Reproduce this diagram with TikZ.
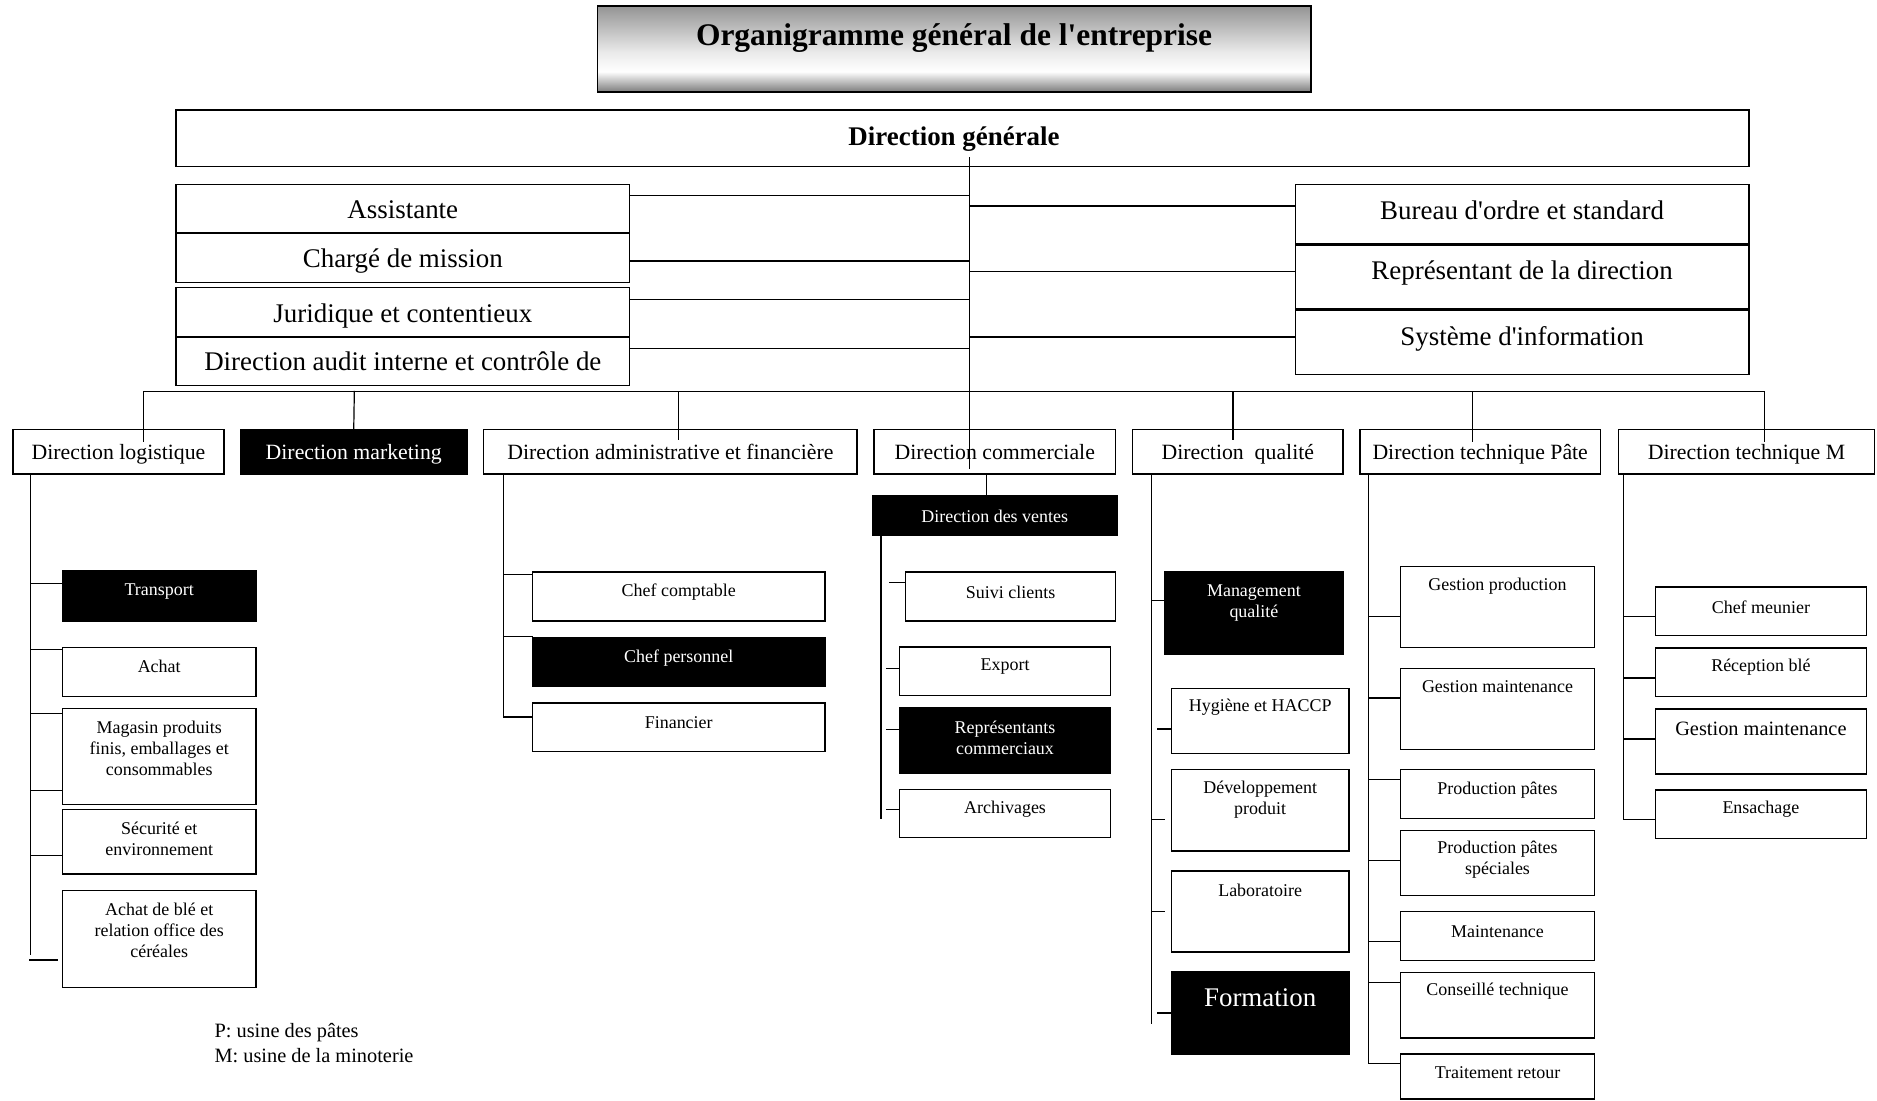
\documentclass[tikz,border=0pt]{standalone}
\usepackage{fontspec}
\setmainfont{Liberation Serif}[Ligatures=TeXOff]
\usetikzlibrary{calc}
\pgfdeclareverticalshading{titleshade}{100bp}{color(0bp)=(black!52); color(25bp)=(black!52); color(37bp)=(white); color(48bp)=(white!92!black); color(75bp)=(black!42); color(100bp)=(black!42)}
\newcommand{\bx}[9]{%
  \node[#6, minimum width={#4-#2}, minimum height={#5-#3}] (#1) at ({(#2+#4)/2},{(#3+#5)/2}) {};
  \node[#7] (#1-t) at ({(#2+#4)/2},#8) {#9};}
\begin{document}
\begin{tikzpicture}[x=1pt,y=-1pt,
  box/.style={draw=black, line width=1.2pt, rectangle, inner sep=0pt, outer sep=0pt},
  wb/.style={box, fill=white},
  bb/.style={box, fill=black},
  conn/.style={line width=1pt, line cap=rect},
  t15/.style={font=\fontsize{15}{17.5}\selectfont, align=center, inner sep=0pt},
  t15w/.style={t15, text=white},
  t17/.style={font=\fontsize{17}{19}\selectfont, align=center, inner sep=0pt},
  t18/.style={font=\fontsize{18.2}{21}\selectfont, inner sep=0pt, text height=12.4pt, text depth=0pt},
  t18w/.style={t18, text=white},
  t22/.style={font=\fontsize{22.5}{26}\selectfont, inner sep=0pt, text height=15.2pt, text depth=0pt},
  t22w/.style={t22, text=white},
  tb22/.style={font=\fontsize{22.5}{26}\selectfont\bfseries, inner sep=0pt, text height=15.2pt, text depth=0pt},
  tb26/.style={font=\fontsize{26.3}{30}\selectfont\bfseries, inner sep=0pt, text height=17.8pt, text depth=0pt}]
\useasboundingbox (0,0) rectangle (1568,919);

% title
\node[draw=black, line width=1.2pt, shading=titleshade, minimum width=596, minimum height=72, inner sep=0pt] (title) at (797,41) {};
\node[tb26] (title-t) at (797,29) {Organigramme général de l'entreprise};

% direction generale
\node[wb, minimum width=1314, minimum height=47] (dg) at (804,115.5) {};
\node[tb22] (dg-t) at (797,114) {Direction générale};

% staff left
\bx{assist}{147}{154}{526}{194}{wb}{t22}{175}{Assistante}
\bx{charge}{147}{195}{526}{236}{wb}{t22}{216}{Chargé de mission}
\bx{jurid}{147}{240}{526}{281}{wb}{t22}{262}{Juridique et contentieux}
\bx{audit}{147}{282}{526}{322}{wb}{t22}{302}{Direction audit interne et contrôle de}
% staff right
\bx{bureau}{1082}{154}{1461}{204}{wb}{t22}{176}{Bureau d'ordre et standard}
\bx{repres}{1082}{205}{1461}{258}{wb}{t22}{226}{Représentant de la direction}
\bx{sysinfo}{1082}{259}{1461}{313}{wb}{t22}{281}{Système d'information}

% directions
\bx{dlog}{11}{359}{187}{396}{wb}{t18}{378}{Direction logistique}
\bx{dmkt}{201}{359}{390}{396}{bb}{t18w}{378}{Direction marketing}
\bx{dadm}{404}{359}{716}{396}{wb}{t18}{378}{Direction administrative et financière}
\bx{dcom}{730}{359}{932}{396}{wb}{t18}{378}{Direction commerciale}
\bx{dqual}{946}{359}{1122}{396}{wb}{t18}{378}{Direction~~qualité}
\bx{dtp}{1136}{359}{1337}{396}{wb}{t18}{378}{Direction technique Pâte}
\bx{dtm}{1352}{359}{1566}{396}{wb}{t18}{378}{Direction technique M}

% logistique children
\bx{transp}{52}{477}{214}{519}{bb}{t15w}{494}{Transport}
\bx{achat}{52}{541}{214}{582}{wb}{t15}{557}{Achat}
\bx{magasin}{52}{592}{214}{672}{wb}{t15}{625}{Magasin produits\\finis, emballages et\\consommables}
\bx{secur}{52}{676}{214}{730}{wb}{t15}{701}{Sécurité et\\environnement}
\bx{achble}{52}{744}{214}{825}{wb}{t15}{777.5}{Achat de blé et\\relation office des\\céréales}

% admin children
\bx{compt}{445}{478}{689}{518.6}{wb}{t15}{495}{Chef comptable}
\bx{perso}{445}{532.4}{689}{573.6}{bb}{t15w}{550}{Chef personnel}
\bx{financ}{445}{587.2}{689}{628}{wb}{t15}{604}{Financier}

% commerciale children
\bx{ventes}{729}{414}{933}{447}{bb}{t15w}{431}{Direction des ventes}
\bx{suivi}{756.5}{478}{932}{518.6}{wb}{t15}{495}{Suivi clients}
\bx{export}{751.6}{540.5}{927.6}{581}{wb}{t15}{557}{Export}
\bx{reprcom}{751.6}{591.6}{927.6}{645.8}{bb}{t15w}{616}{Représentants\\commerciaux}
\bx{archiv}{751.6}{659.5}{927.6}{699.8}{wb}{t15}{676}{Archivages}

% qualite children
\bx{mgmt}{973}{478}{1122}{546.5}{bb}{t15w}{503.5}{Management\\qualité}
\bx{hyg}{978.6}{575}{1126.8}{629.4}{wb}{t15}{591}{Hygiène et HACCP}
\bx{devp}{978.6}{642.7}{1126.8}{710.8}{wb}{t15}{668}{Développement\\produit}
\bx{labo}{978.6}{727.5}{1126.8}{795.3}{wb}{t15}{744}{Laboratoire}
\bx{form}{978.6}{812}{1126.8}{881}{bb}{t22w}{833}{Formation}

% technique pate children
\bx{gprod}{1170}{473.3}{1332}{541}{wb}{t15}{490}{Gestion production}
\bx{gmaint}{1170}{558.4}{1332}{626}{wb}{t15}{574}{Gestion maintenance}
\bx{prodp}{1170}{642.7}{1332}{683.7}{wb}{t15}{660}{Production pâtes}
\bx{prodps}{1170}{693.7}{1332}{748}{wb}{t15}{718.5}{Production pâtes\\spéciales}
\bx{maint}{1170}{761.5}{1332}{802.3}{wb}{t15}{778}{Maintenance}
\bx{conseil}{1170}{812.3}{1332}{867}{wb}{t15}{828}{Conseillé technique}
\bx{traitr}{1170}{880.4}{1332}{918.2}{wb}{t15}{896}{Traitement retour}

% technique M children
\bx{meun}{1383}{490.3}{1559}{530.8}{wb}{t15}{507}{Chef meunier}
\bx{recep}{1383}{541.4}{1559}{582}{wb}{t15}{557}{Réception blé}
\bx{gmaintm}{1383}{592.2}{1559}{646.5}{wb}{t17}{609}{Gestion maintenance}
\bx{ensach}{1383}{660}{1559}{700.5}{wb}{t15}{676}{Ensachage}

% legend
\node[t17, anchor=west, align=left] (legP) at (179,863) {P: usine des pâtes};
\node[t17, anchor=west, align=left] (legM) at (179,882) {M: usine de la minoterie};

% ---------- connectors ----------
\coordinate (ctop) at (810,132);
\coordinate (cbot) at (810,391);
\draw[conn] (ctop) -- (cbot);
\draw[conn] (assist.east |- 0,163) -- (ctop |- 0,163);
\draw[conn] (charge.east |- 0,218) -- (ctop |- 0,218);
\draw[conn] (jurid.east |- 0,250) -- (ctop |- 0,250);
\draw[conn] (audit.east |- 0,291) -- (ctop |- 0,291);
\draw[conn] (ctop |- 0,172) -- (bureau.west |- 0,172);
\draw[conn] (ctop |- 0,227) -- (repres.west |- 0,227);
\draw[conn] (ctop |- 0,281.5) -- (sysinfo.west |- 0,281.5);

% bus
\coordinate (busL) at (120,327);
\coordinate (busR) at (1474,327);
\draw[conn] (busL) -- (busR);
\draw[conn] (busL) -- (busL |- 0,369);
\draw[conn] (296,327) -- (dmkt.north);
\draw[conn] (567,327) -- (567,367);
\draw[conn] (1030,327) -- (1030,367);
\draw[conn] (1230,327) -- (1230,369);
\draw[conn] (busR) -- (busR |- 0,369);

% logistique
\coordinate (slog) at (25.8,396);
\draw[conn] (slog) -- (25.8,797.5);
\draw[conn] (slog |- 0,487.6) -- (transp.west |- 0,487.6);
\draw[conn] (slog |- 0,542.6) -- (achat.west |- 0,542.6);
\draw[conn] (slog |- 0,596.3) -- (magasin.west |- 0,596.3);
\draw[conn] (slog |- 0,660.6) -- (magasin.west |- 0,660.6);
\draw[conn] (slog |- 0,714.9) -- (secur.west |- 0,714.9);
\draw[conn] (24.5,802) -- (48,802);

% admin
\coordinate (sadm) at (420.4,396);
\draw[conn] (sadm) -- (sadm |- 0,599) -- (financ.west |- 0,599);
\draw[conn] (sadm |- 0,480.2) -- (compt.west |- 0,480.2);
\draw[conn] (sadm |- 0,532) -- (perso.west |- 0,532);

% commerciale
\draw[conn] (dcom.south -| 824,0) -- (ventes.north -| 824,0);
\coordinate (scom) at (736,447);
\draw[conn] (scom) -- (736,684);
\draw[conn] (743.5,486.6) -- (suivi.west |- 0,486.6);
\draw[conn] (741,558.6) -- (export.west |- 0,558.6);
\draw[conn] (741,609.5) -- (reprcom.west |- 0,609.5);
\draw[conn] (741,676.3) -- (archiv.west |- 0,676.3);

% qualite
\coordinate (squal) at (962,396);
\draw[conn] (squal) -- (962,854.6);
\draw[conn] (squal |- 0,501.5) -- (mgmt.west |- 0,501.5);
\draw[conn] (967.4,609) -- (hyg.west |- 0,609);
\draw[conn] (squal |- 0,684.3) -- (973,684.3);
\draw[conn] (squal |- 0,761.5) -- (973,761.5);
\draw[conn] (967.4,846.3) -- (form.west |- 0,846.3);

% technique pate
\coordinate (stp) at (1143,396);
\draw[conn] (stp) -- (stp |- 0,888.3) -- (traitr.west |- 0,888.3);
\draw[conn] (stp |- 0,515) -- (gprod.west |- 0,515);
\draw[conn] (stp |- 0,583.1) -- (gmaint.west |- 0,583.1);
\draw[conn] (stp |- 0,651.2) -- (prodp.west |- 0,651.2);
\draw[conn] (stp |- 0,719) -- (prodps.west |- 0,719);
\draw[conn] (stp |- 0,786.5) -- (maint.west |- 0,786.5);
\draw[conn] (stp |- 0,820.8) -- (conseil.west |- 0,820.8);

% technique M
\coordinate (stm) at (1356.5,396);
\draw[conn] (stm) -- (stm |- 0,684.9) -- (ensach.west |- 0,684.9);
\draw[conn] (stm |- 0,515) -- (meun.west |- 0,515);
\draw[conn] (stm |- 0,566.3) -- (recep.west |- 0,566.3);
\draw[conn] (stm |- 0,617.4) -- (gmaintm.west |- 0,617.4);
\end{tikzpicture}
\end{document}
